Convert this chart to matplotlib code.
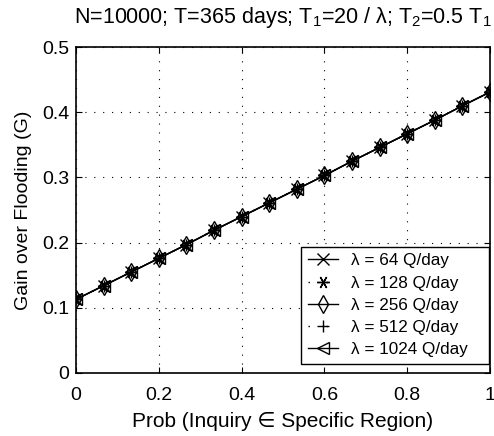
import matplotlib.pyplot as plt

plt.rcParams['font.family'] = ['Liberation Sans', 'DejaVu Sans']
plt.rcParams['mathtext.fontset'] = 'custom'
plt.rcParams['mathtext.rm'] = 'Liberation Sans'
plt.rcParams['mathtext.it'] = 'Liberation Sans'

# data
prob = [0, 1/15, 2/15, 3/15, 4/15, 5/15, 6/15, 7/15, 8/15, 9/15, 10/15,
        11/15, 12/15, 13/15, 14/15, 1]
gain = [0.113, 0.134, 0.155, 0.176, 0.197, 0.219, 0.240, 0.261, 0.282,
        0.303, 0.325, 0.346, 0.367, 0.388, 0.410, 0.431]
labels = ['λ = 64 Q/day', 'λ = 128 Q/day', 'λ = 256 Q/day',
          'λ = 512 Q/day', 'λ = 1024 Q/day']
markers = ['x', (6, 2, 90), 'd', '+', '<']
styles = ['-', (0, (1, 12)), '-', (0, (1, 12)), '-']

fig = plt.figure(figsize=(4.94, 4.36), dpi=100)
ax = fig.add_axes([0.154, 0.1445, 0.838, 0.7475])

for lab, m, ls in zip(labels, markers, styles):
    ax.plot(prob, gain, color='k', linestyle=ls, marker=m, markersize=9,
            markerfacecolor='none', markeredgecolor='k', linewidth=1, label=lab)

ax.set_xlim(0, 1)
ax.set_ylim(0, 0.5)
ax.set_xticks([0, 0.2, 0.4, 0.6, 0.8, 1])
ax.set_xticklabels(['0', '0.2', '0.4', '0.6', '0.8', '1'])
ax.set_yticks([0, 0.1, 0.2, 0.3, 0.4, 0.5])
ax.set_yticklabels(['0', '0.1', '0.2', '0.3', '0.4', '0.5'])
ax.grid(True, linestyle=(0, (1, 7)), color='k', linewidth=0.8)
ax.tick_params(direction='in', top=True, right=True, labelsize=14, length=4)
ax.tick_params(axis='y', pad=5)
ax.tick_params(axis='x', pad=10)
for s in ax.spines.values():
    s.set_linewidth(1.2)

ax.set_xlabel('Prob (Inquiry ∈ Specific Region)', fontsize=15, labelpad=6)
ax.set_ylabel('Gain over Flooding (G)', fontsize=14, labelpad=7)
ax.set_title('N=10000; T=365 days; T$_1$=20 / λ; T$_2$=0.5 T$_1$', fontsize=15.5, pad=17)

# legend box stretched like the MATLAB one
leg = ax.legend(loc='lower left', bbox_to_anchor=(0.543, 0.028, 0.455, 0.3),
                mode='expand', fontsize=12.3, fancybox=False, edgecolor='k',
                framealpha=1, borderaxespad=0, handlelength=1.8,
                labelspacing=0.42, borderpad=0.4, handletextpad=0.75)
leg.get_frame().set_linewidth(1)

fig.savefig('out.png', dpi=100)
